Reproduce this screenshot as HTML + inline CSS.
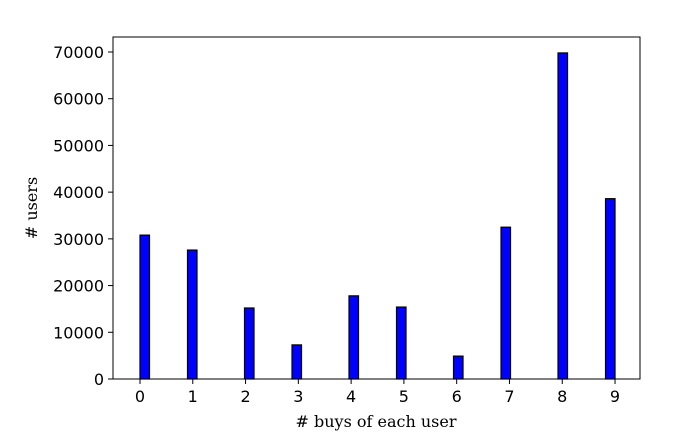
<!DOCTYPE html>
<html><head><meta charset="utf-8"><style>
body{margin:0;background:#fff}
text{font-family:"DejaVu Sans","Liberation Sans",sans-serif;font-size:16px;fill:#000}
.lab{font-family:"DejaVu Serif","Liberation Serif",serif;font-size:16px}
</style></head><body>
<svg id="chart" width="680" height="443" xmlns="http://www.w3.org/2000/svg"></svg>
<script>
const categories=[0,1,2,3,4,5,6,7,8,9];
const counts=[30800,27600,15200,7300,17800,15400,4900,32500,69800,38600];
const yTicks=[0,10000,20000,30000,40000,50000,60000,70000];
const xTicks=[0,1,2,3,4,5,6,7,8,9];
const NS="http://www.w3.org/2000/svg";
const svg=document.getElementById('chart');
const X0=113,X1=640,Y0=379,Y1=37;
const x=v=>140+52.78*v;
const y=v=>379-v*(379-52)/70000;
const binW=9/50;
function mk(t,a,p){const e=document.createElementNS(NS,t);for(const k in a)e.setAttribute(k,a[k]);(p||svg).appendChild(e);return e;}
categories.forEach((c,i)=>{
  const left=Math.min(Math.floor(c/binW),49)*binW;
  const r=mk('rect',{x:x(left),y:y(counts[i]),width:x(left+binW)-x(left),height:Y0-y(counts[i]),fill:'#0000ff',stroke:'#000','stroke-width':1.2});
  
  
});
const f=mk('rect',{x:X0,y:Y1,width:X1-X0,height:Y0-Y1,fill:'none',stroke:'#000','stroke-width':1});


yTicks.forEach(v=>{
  mk('line',{x1:X0-5,x2:X0,y1:y(v),y2:y(v),stroke:'#000'});
  const t=mk('text',{x:X0-9,y:y(v)+6,'text-anchor':'end'});t.textContent=v;
  
  
});
xTicks.forEach(v=>{
  mk('line',{x1:x(v),x2:x(v),y1:Y0,y2:Y0+5,stroke:'#000'});
  const t=mk('text',{x:x(v),y:Y0+23,'text-anchor':'middle'});t.textContent=v;
  
  
});
const xl=mk('text',{x:376,y:427,'text-anchor':'middle',class:'lab'});xl.textContent='# buys of each user';


const yl=mk('text',{x:37,y:208,'text-anchor':'middle',class:'lab',transform:'rotate(-90 37 208)'});yl.textContent='# users';


</script>
</body></html>
